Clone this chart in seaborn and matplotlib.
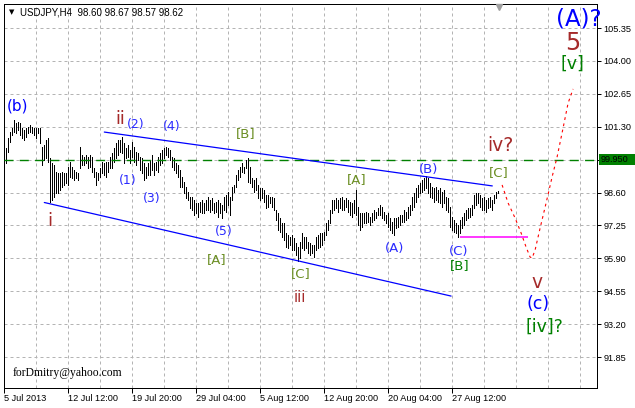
import numpy as np
import matplotlib
matplotlib.use("Agg")
import matplotlib.pyplot as plt
import matplotlib.transforms as mtransforms
from matplotlib.patches import Rectangle
import seaborn as sns

# ---------------- data ----------------
symbol_title = "USDJPY,H4  98.60 98.67 98.57 98.62"
watermark = "forDmitry@yahoo.com"

date_tick_bars = [0, 32, 64, 96, 128, 160, 192, 224]
date_tick_labels = ["5 Jul 2013", "12 Jul 12:00", "19 Jul 20:00", "29 Jul 04:00",
                    "5 Aug 12:00", "12 Aug 20:00", "20 Aug 04:00", "27 Aug 12:00"]
price_ticks = [105.35, 104.00, 102.65, 101.30, 99.95, 98.60, 97.25, 95.90, 94.55, 93.20, 91.85]
price_tick_labels = ["105.35", "104.00", "102.65", "101.30", "", "98.60", "97.25",
                     "95.90", "94.55", "93.20", "91.85"]

bar_high = [
    100.43, 100.84, 101.08, 101.25, 101.57, 101.45, 101.49, 101.45, 101.25, 101.16,
    101.25, 101.29, 101.37, 101.29, 101.25, 101.25, 101.25, 101.25, 100.47, 100.55,
    100.75, 100.84, 100.02, 99.81, 99.73, 99.44, 99.40, 99.40, 99.44, 99.40,
    99.40, 99.65, 99.85, 99.65, 99.52, 99.44, 99.40, 100.47, 100.14, 100.06,
    100.14, 100.06, 100.14, 100.06, 99.61, 99.44, 99.40, 99.61, 99.85, 99.81,
    99.85, 99.85, 100.06, 100.22, 100.43, 100.63, 100.75, 100.75, 100.88, 100.63,
    100.43, 100.55, 100.34, 100.67, 100.47, 100.26, 100.22, 100.06, 100.02, 99.81,
    99.65, 99.81, 99.93, 100.14, 99.81, 99.85, 100.06, 100.22, 100.34, 100.43,
    100.47, 100.43, 100.34, 100.06, 100.02, 99.81, 99.73, 99.52, 99.24, 99.03,
    98.83, 98.62, 98.42, 98.42, 98.29, 98.17, 98.17, 98.21, 98.29, 98.17,
    98.29, 98.42, 98.29, 98.37, 98.17, 98.21, 98.29, 98.17, 98.09, 98.42,
    98.50, 98.62, 98.42, 98.83, 98.91, 99.32, 99.52, 99.65, 99.81, 99.65,
    99.93, 100.02, 99.65, 99.20, 99.11, 99.20, 98.91, 98.78, 98.78, 98.70,
    98.50, 98.50, 98.42, 98.42, 98.37, 97.88, 97.76, 97.55, 97.35, 97.35,
    96.94, 96.86, 96.77, 96.86, 96.73, 96.53, 96.36, 96.57, 96.94, 96.77,
    96.77, 96.57, 96.53, 96.45, 96.45, 96.77, 96.86, 96.94, 96.94, 96.98,
    97.35, 97.47, 97.88, 98.29, 98.29, 98.37, 98.29, 98.37, 98.42, 98.29,
    98.37, 98.29, 98.21, 98.17, 98.29, 98.70, 98.00, 97.76, 97.76, 97.76,
    97.80, 97.76, 97.59, 97.76, 97.88, 97.80, 97.96, 98.09, 98.00, 97.80,
    97.68, 97.76, 97.55, 97.39, 97.55, 97.55, 97.59, 97.68, 97.68, 97.88,
    97.80, 98.00, 98.09, 98.42, 98.58, 98.78, 98.91, 98.99, 99.11, 99.20,
    99.28, 99.20, 98.99, 98.83, 98.78, 98.83, 98.70, 98.78, 98.62, 98.70,
    98.42, 98.37, 98.00, 97.59, 97.47, 97.35, 97.27, 97.47, 97.59, 97.76,
    97.88, 97.96, 97.96, 98.09, 98.50, 98.58, 98.58, 98.50, 98.37, 98.42,
    98.29, 98.37, 98.42, 98.29, 98.50, 98.62, 98.67,
]
bar_low = [
    99.81, 100.26, 100.67, 100.96, 101.08, 101.04, 101.16, 100.96, 100.84, 100.75,
    100.88, 101.04, 101.08, 101.04, 100.96, 100.84, 101.04, 100.63, 99.73, 99.93,
    100.02, 99.85, 98.21, 98.29, 98.42, 98.58, 98.58, 98.70, 98.83, 98.91,
    98.99, 98.91, 99.24, 99.20, 99.11, 99.20, 99.11, 99.61, 99.73, 99.73,
    99.81, 99.61, 99.65, 99.44, 99.24, 98.91, 99.11, 99.24, 99.40, 99.32,
    99.24, 99.44, 99.61, 99.61, 99.85, 100.02, 100.14, 100.26, 100.22, 99.81,
    100.02, 100.06, 99.81, 100.06, 99.85, 99.73, 99.93, 99.52, 99.40, 99.11,
    99.20, 99.32, 99.32, 99.52, 99.32, 99.52, 99.44, 99.73, 99.81, 100.02,
    100.14, 100.06, 99.93, 99.65, 99.52, 99.40, 99.24, 98.83, 98.83, 98.58,
    98.37, 98.29, 97.96, 97.88, 97.68, 97.76, 97.59, 97.80, 97.76, 97.76,
    97.88, 97.88, 97.80, 97.88, 97.76, 97.80, 97.59, 97.76, 97.55, 97.88,
    97.80, 98.09, 97.68, 98.29, 98.62, 98.83, 99.11, 99.24, 99.44, 99.40,
    99.61, 99.03, 98.99, 98.83, 98.62, 98.70, 98.37, 98.29, 98.37, 98.21,
    97.96, 98.00, 98.17, 98.00, 97.88, 97.47, 97.06, 96.98, 96.77, 96.65,
    96.36, 96.32, 96.45, 96.24, 96.24, 96.04, 95.79, 95.91, 96.32, 96.24,
    96.32, 96.12, 96.04, 96.12, 95.95, 96.24, 96.32, 96.36, 96.45, 96.65,
    96.86, 97.06, 97.35, 97.76, 97.88, 97.96, 97.80, 97.96, 97.88, 97.88,
    98.00, 97.80, 97.68, 97.59, 97.76, 97.68, 97.27, 97.06, 97.18, 97.35,
    97.35, 97.39, 97.27, 97.39, 97.47, 97.55, 97.68, 97.68, 97.55, 97.47,
    97.35, 97.18, 97.06, 96.94, 96.86, 97.14, 97.18, 97.27, 97.39, 97.39,
    97.47, 97.55, 97.68, 97.88, 98.00, 98.21, 98.42, 98.58, 98.62, 98.70,
    98.78, 98.58, 98.42, 98.37, 98.21, 98.29, 98.21, 98.17, 98.00, 98.17,
    97.88, 97.80, 97.18, 97.06, 96.98, 96.94, 96.77, 96.94, 97.14, 97.27,
    97.47, 97.55, 97.59, 97.68, 97.96, 98.09, 98.17, 98.00, 97.88, 97.88,
    97.80, 97.96, 98.00, 97.88, 98.17, 98.37, 98.57,
]

upper_channel_bar = [50, 244]
upper_channel_price = [101.08, 98.87]
lower_channel_bar = [20, 223.4]
lower_channel_price = [98.19, 94.35]
resistance_price = 99.95
resistance_label = "99.950"
support_price = 96.79
support_bar = [227.9, 261.9]
forecast_bar = [248.9, 251.9, 255.4, 258.4, 260.9, 262.9, 263.9, 265.4, 267.9,
                270.9, 273.9, 276.4, 279.4, 281.9, 284.4]
forecast_price = [98.91, 98.17, 97.55, 96.94, 96.36, 95.95, 95.91, 96.24, 97.14,
                  98.17, 99.24, 100.06, 101.25, 102.27, 102.85]

BLUE = "#0000FF"
BLUE2 = "#2B2BFF"
BROWN = "#A52A2A"
OLIVE = "#6B8E23"
GREEN = "#008000"
wave_labels = [
    ("(b)", 6.6, 102.15, BLUE, 11),
    ("ii", 57.9, 101.60, BROWN, 12.5),
    ("(2)", 65.6, 101.41, BLUE2, 9),
    ("(4)", 83.6, 101.29, BLUE2, 9),
    ("[B]", 120.9, 101.02, OLIVE, 9.5),
    ("i", 22.9, 97.43, BROWN, 13),
    ("(1)", 61.9, 99.11, BLUE2, 9),
    ("(3)", 73.6, 98.35, BLUE2, 9),
    ("(5)", 109.9, 97.00, BLUE2, 9),
    ("[A]", 106.1, 95.85, OLIVE, 9.5),
    ("[C]", 148.1, 95.26, OLIVE, 9.5),
    ("iii", 147.9, 94.29, BROWN, 10.5),
    ("[A]", 176.1, 99.13, OLIVE, 9.5),
    ("(A)", 195.1, 96.30, BLUE2, 9.5),
    ("(B)", 212.1, 99.56, BLUE2, 9.5),
    ("(C)", 227.1, 96.18, BLUE2, 9.5),
    ("[B]", 227.9, 95.62, GREEN, 9.5),
    ("iv?", 247.9, 100.53, BROWN, 13.5),
    ("[C]", 247.1, 99.42, OLIVE, 9.5),
    ("v", 266.4, 94.90, BROWN, 13.5),
    ("(c)", 266.9, 94.04, BLUE, 12.5),
    ("[iv]?", 270.1, 93.08, GREEN, 12.5),
    ("(A)?", 287.1, 105.70, BLUE, 16.5),
    ("5", 284.1, 104.75, BROWN, 17),
    ("[v]", 283.9, 103.87, GREEN, 12.5),
]

# ---------------- figure ----------------
sns.set_theme(style="white")
plt.rcParams["font.family"] = ["DejaVu Sans"]

W, H = 635, 408
fig = plt.figure(figsize=(W / 100, H / 100), dpi=100, facecolor="white")
ax = fig.add_axes([4 / W, 20 / H, 593 / W, 384 / H])
ax.set_facecolor("white")
ax.set_xlim(-0.15, 296.35)
ax.set_ylim(90.578, 106.335)

# grid
ax.set_xticks(date_tick_bars)
ax.set_xticks(list(range(0, 297, 16)), minor=True)
ax.set_yticks(price_ticks)
grid_kw = dict(color="#B4B4B4", linestyle=(0, (3, 3)), linewidth=0.72)
ax.grid(True, which="major", axis="both", **grid_kw)
ax.grid(True, which="minor", axis="x", **grid_kw)
ax.set_axisbelow(True)

# OHLC range bars
bar_idx = np.arange(1, len(bar_high) + 1)
ax.vlines(bar_idx, bar_low, bar_high, colors="black", linewidth=0.55,
          antialiased=False, zorder=3)

# horizontal resistance (dashed green) and support (magenta)
ax.axhline(resistance_price, color="#008000", linewidth=1.0,
           linestyle=(0, (6.5, 4.5)), zorder=4)
ax.hlines(support_price, support_bar[0], support_bar[1], color="#FF00FF",
          linewidth=1.1, zorder=4)

# channel lines
sns.lineplot(x=upper_channel_bar, y=upper_channel_price, color=BLUE,
             linewidth=0.9, ax=ax, zorder=4)
sns.lineplot(x=lower_channel_bar, y=lower_channel_price, color=BLUE,
             linewidth=0.9, ax=ax, zorder=4)

# forecast path
sns.lineplot(x=forecast_bar, y=forecast_price, sort=False, color="#FF0000",
             linewidth=0.8, linestyle=(0, (2.5, 3.2)), ax=ax, zorder=4)

# wave labels
for txt, bx, py, col, fs in wave_labels:
    ax.text(bx, py, txt, color=col, fontsize=fs, ha="center", va="center",
            family="DejaVu Sans", clip_on=False, zorder=5)

# axes styling
for sp in ax.spines.values():
    sp.set_visible(True)
    sp.set_color("black")
    sp.set_linewidth(0.72)
ax.yaxis.tick_right()
ax.set_yticklabels(price_tick_labels)
ax.set_xticklabels(date_tick_labels)
for lab in ax.get_xticklabels():
    lab.set_horizontalalignment("left")
ax.tick_params(axis="y", which="major", direction="out", length=3, width=0.72,
               pad=1.5, labelsize=6.6, colors="black", right=True, left=False,
               labelfontfamily="Liberation Sans")
ax.tick_params(axis="x", which="major", direction="out", length=3.6, width=0.72,
               pad=0.8, labelsize=6.6, colors="black", bottom=True,
               labelfontfamily="Liberation Sans")
ax.tick_params(axis="x", which="minor", length=0)
ax.set_xlabel("")
ax.set_ylabel("")

# price label box of the resistance line
trans = mtransforms.blended_transform_factory(ax.transAxes, ax.transData)
ax.add_patch(Rectangle((595 / 593, resistance_price - 0.226), 37 / 593, 0.452,
                       transform=trans, facecolor="#008000", edgecolor="none",
                       clip_on=False, zorder=6))
ax.text(597 / 593, resistance_price, resistance_label, transform=trans,
        ha="left", va="center", fontsize=6.6, color="black",
        family="Liberation Sans", clip_on=False, zorder=7)

# chart-shift marker at top
ax.plot([247.4], [0.991], marker="v", color="#A0A0A0", markersize=5,
        transform=mtransforms.blended_transform_factory(ax.transData, ax.transAxes),
        clip_on=False, zorder=6)

# title and watermark
fig.text(12 / W, 1 - 12 / H, "\u25BC", fontsize=5, ha="center", va="center",
         family="DejaVu Sans", color="black")
fig.text(20 / W, 1 - 12.3 / H, symbol_title, fontsize=7, ha="left", va="center",
         family="Liberation Sans", color="black")
fig.text(13 / W, 1 - 373 / H, watermark, fontsize=8.4, ha="left", va="center",
         family="Liberation Serif", color="black")

fig.savefig("out.png", dpi=100, facecolor="white")
